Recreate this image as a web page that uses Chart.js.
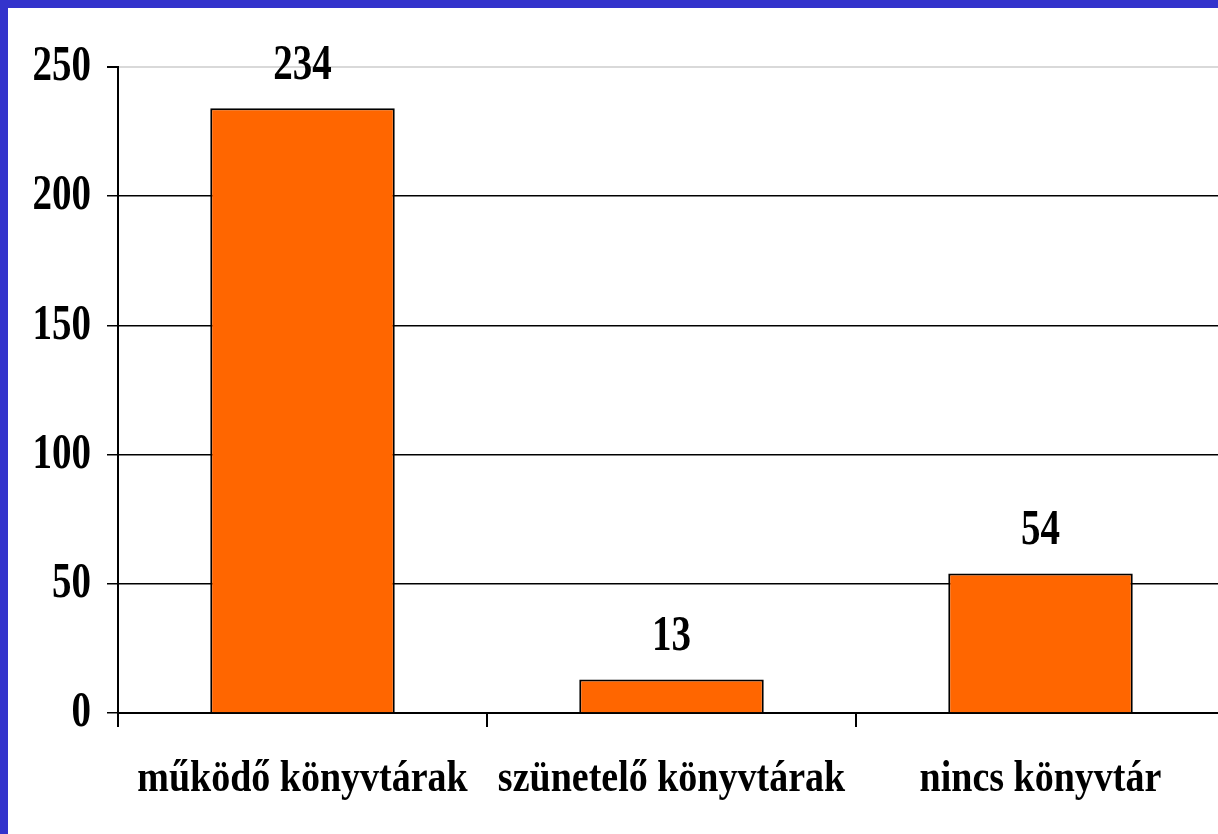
<!DOCTYPE html>
<html>
<head>
<meta charset="utf-8">
<script src="https://cdn.jsdelivr.net/npm/chart.js@4"></script>
<style>
  html, body { margin: 0; padding: 0; overflow: hidden; }
  body { background: #3333cc; width: 1218px; height: 834px; }
  #wrap { position: absolute; left: 8px; top: 8px; width: 1240px; height: 826px; background: #fff; }
</style>
</head>
<body>
<div id="wrap"><canvas id="chart"></canvas></div>
<script>
  'use strict'

  // adatok
  var categories = ['működő könyvtárak', 'szünetelő könyvtárak', 'nincs könyvtár']
  var values = [234, 13, 54]
  var yTicks = [0, 50, 100, 150, 200, 250]

  var serif = '"Liberation Serif", "Times New Roman", serif'

  // az eredeti képen a feliratok függőlegesen nyújtottak
  var stretchText = {
    id: 'stretchText',
    beforeDraw: function (chart) {
      var ctx = chart.ctx
      if (ctx._stretched) return
      ctx._stretched = true
      var orig = ctx.fillText
      ctx.fillText = function (text, x, y, w) {
        var k = categories.indexOf(String(text)) >= 0 ? 1.17 : 1.3
        this.save()
        this.translate(x, y)
        this.scale(1, k)
        if (w === undefined) orig.call(this, text, 0, 0)
        else orig.call(this, text, 0, 0, w)
        this.restore()
      }
    }
  }

  // értékek kiírása az oszlopok fölé
  var barLabels = {
    id: 'barLabels',
    afterDatasetsDraw: function (chart) {
      var ctx = chart.ctx
      var meta = chart.getDatasetMeta(0)
      ctx.save()
      ctx.font = 'bold 39px ' + serif
      ctx.fillStyle = '#000'
      ctx.textAlign = 'center'
      ctx.textBaseline = 'alphabetic'
      meta.data.forEach(function (bar, i) {
        ctx.fillText(String(values[i]), bar.x, bar.y - 29)
      })
      ctx.restore()
    }
  }

  var canvas = document.getElementById('chart')
  canvas.width = 1240
  canvas.height = 826

  new Chart(canvas.getContext('2d'), {
    type: 'bar',
    data: {
      labels: categories,
      datasets: [{
        data: values,
        backgroundColor: '#ff6600',
        borderColor: '#000',
        borderWidth: 2,
        categoryPercentage: 1,
        barPercentage: 0.5
      }]
    },
    options: {
      responsive: false,
      animation: false,
      layout: { padding: { top: 59, right: 23, left: 0, bottom: 0 } },
      plugins: { legend: { display: false }, tooltip: { enabled: false } },
      scales: {
        x: {
          offset: true,
          afterFit: function (scale) { scale.height = 121 },
          grid: {
            offset: true,
            drawOnChartArea: false,
            drawTicks: true,
            tickLength: 14,
            color: '#000',
            lineWidth: 2
          },
          border: { display: true, color: '#000', width: 2 },
          ticks: {
            color: '#000',
            padding: 30,
            maxRotation: 0,
            autoSkip: false,
            font: { family: serif, size: 38, weight: 'bold' }
          }
        },
        y: {
          min: 0,
          max: 250,
          afterFit: function (scale) { scale.width = 110 },
          afterBuildTicks: function (scale) {
            scale.ticks = yTicks.map(function (v) { return { value: v } })
          },
          grid: {
            color: function (c) { return c.tick && c.tick.value === 250 ? '#d9d9d9' : '#000' },
            tickColor: '#000',
            lineWidth: function (c) { return c.tick && c.tick.value === 250 ? 2 : 1.5 },
            tickLength: 11
          },
          border: { display: true, color: '#000', width: 2 },
          ticks: {
            color: '#000',
            padding: 16,
            font: { family: serif, size: 39, weight: 'bold' }
          }
        }
      }
    },
    plugins: [stretchText, barLabels]
  })
</script>
</body>
</html>
